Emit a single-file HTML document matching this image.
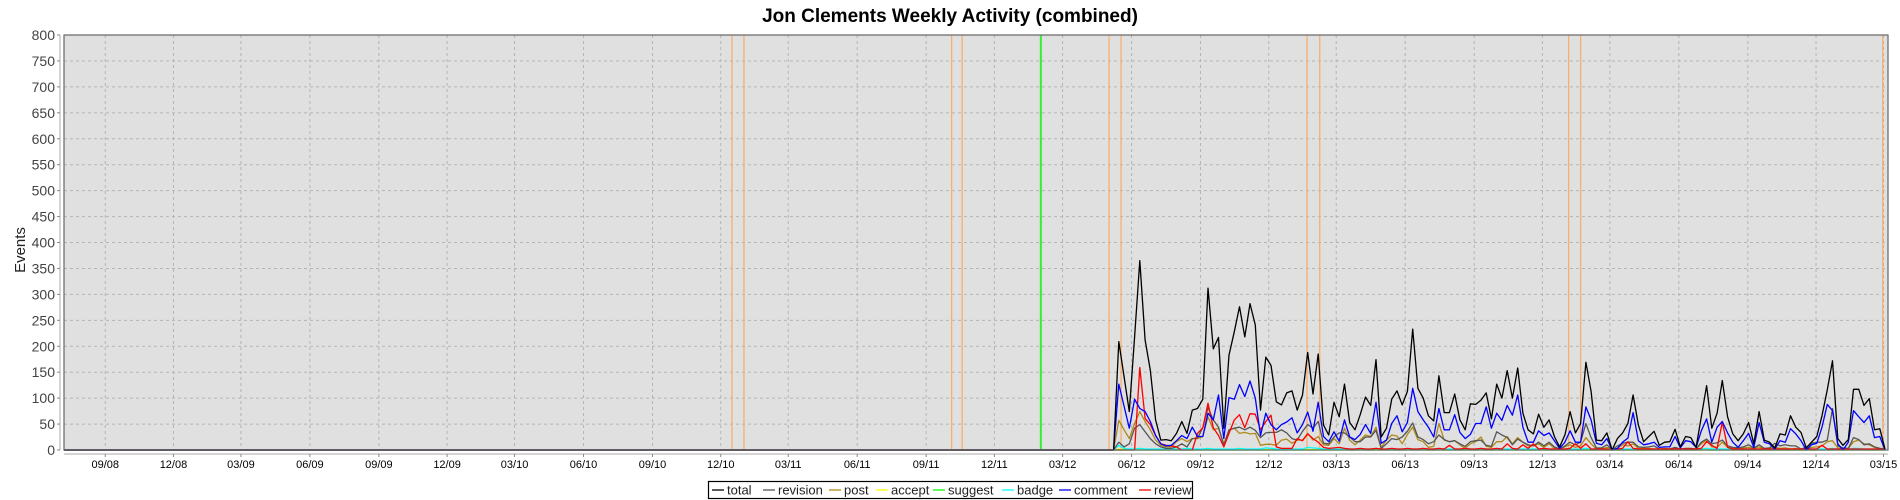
<!DOCTYPE html>
<html><head><meta charset="utf-8"><style>
html,body{margin:0;padding:0;background:#fff;}
svg{display:block;font-family:"Liberation Sans",sans-serif;}
</style></head><body>
<svg id="chart" width="1900" height="500" viewBox="0 0 1900 500">
<text x="950" y="22" text-anchor="middle" font-size="19" font-weight="bold" fill="#000">Jon Clements Weekly Activity (combined)</text>
<rect x="64" y="35" width="1824" height="415" fill="#e0e0e0"/>
<g id="grid"></g>
<g id="markers"></g>
<g id="series"></g>
<rect x="64" y="35" width="1824" height="415" fill="none" stroke="#666" stroke-width="1.2"/>
<g id="yaxis"></g>
<g id="xaxis"></g>
<text transform="translate(25,250) rotate(-90)" text-anchor="middle" font-size="15" fill="#222">Events</text>
<g id="legend"></g>
</svg>
<script>
const yTicks = [0,50,100,150,200,250,300,350,400,450,500,550,600,650,700,750,800];
const xTickMonths = ["2008-09","2008-12","2009-03","2009-06","2009-09","2009-12","2010-03","2010-06","2010-09","2010-12","2011-03","2011-06","2011-09","2011-12","2012-03","2012-06","2012-09","2012-12","2013-03","2013-06","2013-09","2013-12","2014-03","2014-06","2014-09","2014-12","2015-03"];
const orangeMarkers = ["2010-12-16","2011-01-01","2011-10-05","2011-10-19","2012-05-02","2012-05-18","2013-01-21","2013-02-07","2014-01-05","2014-01-21","2015-02-28"];
const greenMarkers = ["2012-02-01"];
const firstWeek = "2012-05-08";
const seriesNames = ["total","revision","post","accept","suggest","badge","comment","review"];
const total = [0,209,141,74,218,365,212,154,58,19,20,18,32,55,32,77,80,98,312,195,217,42,183,228,276,218,282,241,77,179,163,93,87,110,114,77,106,188,108,185,
48,29,92,64,127,53,39,68,102,86,174,25,42,98,114,87,113,233,119,100,66,56,143,72,72,108,58,39,89,88,96,110,60,127,100,153,100,158,
71,39,31,69,44,58,26,6,29,74,33,51,169,113,19,18,33,0,22,33,51,106,48,16,26,36,9,15,16,40,6,26,24,5,64,124,42,71,134,64,31,18,31,53,12,74,19,15,4,31,29,66,44,34,4,15,26,66,116,172,22,9,20,117,117,86,99,39,41,2];
const revision = [0,15,6,12,42,49,35,22,12,6,3,3,6,12,6,22,23,43,82,58,44,9,39,42,44,39,44,38,24,33,34,34,39,33,22,19,36,49,42,55,
13,12,25,33,33,25,16,16,25,25,38,3,12,22,20,25,36,52,25,20,12,16,29,20,16,18,12,7,16,18,19,9,7,35,29,24,10,21,
15,10,8,15,8,15,6,2,8,15,10,15,51,24,4,4,10,0,8,13,15,15,6,5,6,8,2,2,2,5,2,3,3,2,15,21,12,14,19,8,5,4,6,10,4,10,3,4,13,8,10,8,8,2,5,13,15,15,19,80,8,4,3,24,20,10,12,6,3,2];
const post = [0,57,39,22,51,74,55,39,19,9,6,6,16,22,16,22,22,26,64,39,42,12,38,42,32,34,31,32,9,11,11,9,19,21,13,19,19,32,19,26,
10,9,22,12,42,19,10,19,29,26,44,5,19,29,27,12,30,44,20,16,5,7,51,19,16,18,10,3,12,16,25,7,5,16,16,26,12,24,
15,8,8,12,5,12,3,2,6,10,5,8,24,12,2,2,5,0,3,10,8,12,3,3,3,2,2,3,2,3,2,2,2,2,12,19,6,5,15,5,3,2,4,5,3,6,2,3,5,3,4,2,3,1,2,5,6,8,16,18,4,2,3,16,19,12,10,5,3,1];
const accept = [0,2,1,1,1,2,1,1,0,0,0,0,0,1,0,1,1,1,2,1,1,0,1,1,1,1,1,1,0,1,1,0,1,1,0,1,1,1,1,1,
0,0,1,0,1,0,0,1,1,0,1,0,0,1,1,0,1,1,1,0,0,0,1,0,0,1,0,0,1,0,1,0,0,1,0,1,0,1,
0,0,0,1,0,0,0,0,0,1,0,0,1,0,0,0,0,0,0,0,0,1,0,0,0,0,0,0,0,0,0,0,0,0,0,1,0,0,1,0,0,0,0,0,0,0,0,0,0,0,0,0,0,0,0,0,0,1,1,1,0,0,0,1,1,0,0,0,0,0];
const suggest = [0,0,0,0,0,0,0,0,0,0,0,0,0,0,0,0,0,0,0,0,0,0,0,0,0,0,0,0,0,0,0,0,0,0,0,0,0,0,0,0,
0,0,0,0,0,0,0,0,0,0,0,0,0,0,0,0,0,0,0,0,0,0,0,0,0,0,0,0,0,0,0,0,0,0,0,0,0,0,
0,0,0,0,0,0,0,0,0,0,0,0,0,0,0,0,0,0,0,0,0,0,0,0,0,0,0,0,0,0,0,0,0,0,0,0,0,0,0,0,0,0,0,0,0,0,0,0,0,0,0,0,0,0,0,0,0,0,0,0,0,0,0,0,0,0,0,0,0,0];
const badge = [0,9,3,2,2,3,2,2,2,2,2,2,2,2,3,2,2,2,3,2,2,2,2,2,3,2,2,2,2,4,3,2,2,2,2,2,2,5,4,3,
2,2,2,2,2,2,2,2,2,2,3,2,2,2,2,2,2,2,2,2,2,2,2,2,2,2,2,2,2,2,2,2,2,2,2,2,2,2,
2,2,2,2,2,2,2,2,2,2,2,2,3,2,2,2,2,0,2,2,2,2,2,2,2,2,2,2,2,2,2,2,2,2,2,3,2,2,2,2,2,2,2,2,2,2,2,2,2,2,2,2,2,2,2,2,2,2,2,3,2,2,2,3,3,2,2,2,2,0];
const comment = [0,127,84,42,98,80,74,55,28,12,8,9,18,28,22,44,26,26,71,58,106,22,101,98,126,103,133,100,28,71,49,39,49,54,62,33,49,73,36,92,
26,16,35,17,58,25,20,30,49,32,92,13,19,51,66,35,53,119,74,58,44,25,80,39,39,68,34,22,30,51,51,83,42,71,57,86,67,106,
44,15,15,37,28,33,18,3,15,37,15,15,83,58,13,10,22,0,3,15,23,72,18,10,12,15,5,6,6,26,4,18,16,5,37,60,15,44,55,33,15,5,18,32,5,53,15,12,2,18,15,41,31,18,0,10,13,44,88,76,12,0,15,76,64,53,66,24,26,0];
const review = [0,0,0,0,0,159,61,49,28,12,9,8,6,0,0,0,32,43,90,43,28,6,32,58,68,43,70,69,39,55,67,6,3,3,3,22,18,31,22,15,
5,3,4,5,3,2,2,3,2,2,3,2,2,3,2,2,3,2,2,3,2,2,3,2,9,2,2,3,2,2,3,2,2,3,2,12,3,2,
10,3,12,2,3,2,2,2,2,3,12,3,12,2,2,2,2,0,2,3,16,3,2,2,2,2,2,2,2,2,2,2,2,2,3,16,9,3,54,5,2,2,2,2,2,2,2,2,2,2,2,2,2,2,2,2,2,9,2,2,2,2,2,2,2,2,2,2,2,0];
const seriesColors = ["#000000","#555555","#b08a1a","#ffff00","#00ff00","#00ffff","#0000ff","#ff0000"];

const NS = "http://www.w3.org/2000/svg";
const domainStart = Date.UTC(2008,6,8), domainEnd = Date.UTC(2015,2,7);
const PX0 = 64, PX1 = 1888, PY0 = 450, PY1 = 35, YMAX = 800;
function parseD(s){const p=s.split("-").map(Number);return Date.UTC(p[0],p[1]-1,p[2]||1);}
function xScale(t){return PX0 + (t-domainStart)/(domainEnd-domainStart)*(PX1-PX0);}
function yScale(v){return PY0 - v/YMAX*(PY0-PY1);}
function mk(tag,attrs,parent){const e=document.createElementNS(NS,tag);for(const k in attrs)e.setAttribute(k,attrs[k]);parent.appendChild(e);return e;}

const grid=document.getElementById("grid"), yaxis=document.getElementById("yaxis"), xaxis=document.getElementById("xaxis");
mk("line",{x1:60,y1:35,x2:60,y2:450,stroke:"#aaa"},yaxis);
yTicks.forEach(v=>{
  const y=yScale(v);
  if(v>0&&v<800){const g=mk("line",{x1:PX0,x2:PX1,y1:y,y2:y,stroke:"#b4b4b4","stroke-dasharray":"3,3","stroke-width":1},grid);
  
  }
  mk("line",{x1:57,x2:60,y1:y,y2:y,stroke:"#888"},yaxis);
  const t=mk("text",{x:55,y:y+5,"text-anchor":"end","font-size":"14",fill:"#444"},yaxis);t.textContent=v;
  
  
});
mk("line",{x1:PX0,y1:454,x2:PX1,y2:454,stroke:"#aaa"},xaxis);
xTickMonths.forEach(m=>{
  const x=xScale(parseD(m));
  const g=mk("line",{x1:x,x2:x,y1:PY1,y2:PY0,stroke:"#b4b4b4","stroke-dasharray":"3,3"},grid);
  
  
  mk("line",{x1:x,x2:x,y1:454,y2:457,stroke:"#888"},xaxis);
  const p=m.split("-");
  const t=mk("text",{x:x,y:468,"text-anchor":"middle","font-size":"11",fill:"#000"},xaxis);t.textContent=p[1]+"/"+p[0].slice(2);
  
  
});
const markers=document.getElementById("markers");
orangeMarkers.forEach(d=>{const x=xScale(parseD(d));
  const l=mk("line",{x1:x,x2:x,y1:PY1,y2:PY0,stroke:"#f5b070","stroke-width":1.3},markers);
  
  });
greenMarkers.forEach(d=>{const x=xScale(parseD(d));
  const l=mk("line",{x1:x,x2:x,y1:PY1,y2:PY0,stroke:"#33ee33","stroke-width":2},markers);
  
  });

const seriesData=[total,revision,post,accept,suggest,badge,comment,review];
const sg=document.getElementById("series");
const w0=parseD(firstWeek), WEEK=7*86400000;
const drawOrder=[3,4,5,2,1,7,6,0];
drawOrder.forEach(si=>{
  const arr=seriesData[si];
  let pts=[[xScale(domainStart),yScale(0)]];
  arr.forEach((v,i)=>{pts.push([xScale(w0+i*WEEK),yScale(v)]);});
  const pl=mk("polyline",{points:pts.map(p=>p[0].toFixed(1)+","+p[1].toFixed(1)).join(" "),fill:"none",stroke:seriesColors[si],"stroke-width":1.3,"stroke-linejoin":"round"},sg);
  
  
});

const lg=document.getElementById("legend");
mk("rect",{x:708.5,y:481.5,width:484,height:17,fill:"#fff",stroke:"#000","stroke-width":1.2},lg);
const legendX=[712,763,829,876,933,1002,1059,1139];
seriesNames.forEach((n,i)=>{
  const lx=legendX[i];
  const e=mk("g",{},lg);
  
  
  mk("line",{x1:lx,x2:lx+12,y1:490,y2:490,stroke:seriesColors[i],"stroke-width":1.3},e);
  const t=mk("text",{x:lx+15,y:494.5,"font-size":"13",fill:"#222"},e);t.textContent=n;
});
</script>
</body></html>
